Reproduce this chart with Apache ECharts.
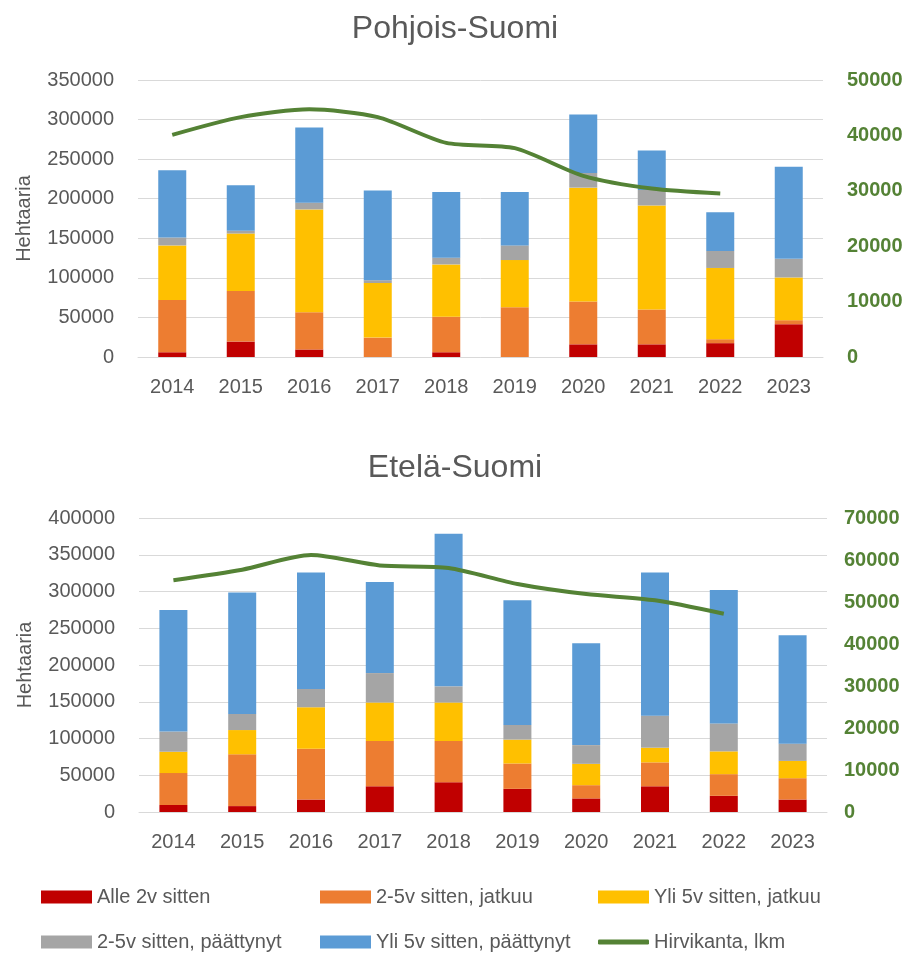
<!DOCTYPE html>
<html>
<head>
<meta charset="utf-8">
<script src="https://cdn.jsdelivr.net/npm/echarts@6/dist/echarts.min.js"></script>
<style>
  html, body { margin: 0; padding: 0; background: #fff; }
  #main { width: 910px; height: 954px; }
</style>
</head>
<body>
<div id="main"></div>
<script>
// vuodet
var years = ['2014','2015','2016','2017','2018','2019','2020','2021','2022','2023'];
var seriesNames = ['Alle 2v sitten','2-5v sitten, jatkuu','Yli 5v sitten, jatkuu',
                   '2-5v sitten, päättynyt','Yli 5v sitten, päättynyt','Hirvikanta, lkm'];

// Pohjois-Suomi
var northAlle2      = [6000, 19500, 9500, 0, 6000, 0, 16000, 16000, 17500, 41500];
var northJatkuu25   = [66000, 64000, 47000, 24500, 45000, 63000, 54000, 44000, 5000, 5000];
var northJatkuuYli5 = [69000, 72500, 130000, 69000, 66000, 59500, 144000, 131500, 90000, 54000];
var northPaatt25    = [10000, 3500, 8500, 3500, 8500, 18500, 18500, 19500, 21500, 23500];
var northPaattYli5  = [85000, 57500, 95000, 113500, 83000, 67500, 74000, 50000, 49000, 116500];
var northHirvi      = [40100, 43300, 44700, 43300, 38650, 37700, 32700, 30400, 29500, null];

// Etelä-Suomi
var southAlle2      = [9500, 8000, 17000, 35000, 40500, 31500, 18500, 35000, 22000, 17000];
var southJatkuu25   = [43500, 70500, 69000, 61500, 56000, 34500, 18000, 32500, 29500, 29000];
var southJatkuuYli5 = [29000, 33000, 56500, 52500, 52500, 32500, 29000, 20000, 31000, 23500];
var southPaatt25    = [27500, 22000, 25000, 40000, 22000, 20000, 25500, 43500, 38000, 23500];
var southPaattYli5  = [165500, 165000, 158500, 124000, 207500, 169500, 138500, 195000, 181500, 147500];
var southHirvi      = [55200, 57700, 61200, 58700, 58100, 54300, 51900, 50400, 47200, null];

var colors = ['#C00000','#ED7D31','#FFC000','#A5A5A5','#5B9BD5','#548235'];
var font = 'Liberation Sans';
var textColor = '#595959';

var chart = echarts.init(document.getElementById('main'));

function plain(v) { return String(v); }  // ei tuhaterottimia

function xAxisFor(gi) {
    return {
        type: 'category', gridIndex: gi, data: years,
        axisTick: { show: false },
        axisLine: { lineStyle: { color: '#D9D9D9' } },
        axisLabel: { color: textColor, fontSize: 20, fontFamily: font, margin: 20 }
    };
}
function leftAxisFor(gi, max) {
    return {
        type: 'value', gridIndex: gi, min: 0, max: max, interval: 50000,
        name: 'Hehtaaria', nameLocation: 'middle', nameGap: 104,
        nameTextStyle: { color: textColor, fontSize: 20, fontFamily: font },
        axisLine: { show: false }, axisTick: { show: false },
        splitLine: { lineStyle: { color: '#D9D9D9' } },
        axisLabel: { color: textColor, fontSize: 20, fontFamily: font, margin: 24, formatter: plain }
    };
}
function rightAxisFor(gi, max, margin) {
    return {
        type: 'value', gridIndex: gi, position: 'right', min: 0, max: max, interval: 10000,
        axisLine: { show: false }, axisTick: { show: false }, splitLine: { show: false },
        axisLabel: { color: '#548235', fontWeight: 'bold', fontSize: 20, fontFamily: font, margin: margin, formatter: plain }
    };
}
function seriesFor(gi, bars, hirvi) {
    var out = [];
    bars.forEach(function (d, i) {
        out.push({
            name: seriesNames[i], type: 'bar', stack: 'st' + gi,
            xAxisIndex: gi, yAxisIndex: gi * 2,
            barWidth: 28, itemStyle: { color: colors[i] },
            data: d
        });
    });
    out.push({
        name: seriesNames[5], type: 'line', xAxisIndex: gi, yAxisIndex: gi * 2 + 1,
        smooth: 0.25, symbol: 'none',
        lineStyle: { color: colors[5], width: 4 }, itemStyle: { color: colors[5] },
        data: hirvi
    });
    return out;
}

// legendit: kaksi riviä, kolme saraketta
var legendPos = [[41, 887], [320, 887], [598, 887], [41, 932], [320, 932], [598, 932]];
var legends = seriesNames.map(function (n, i) {
    return {
        left: legendPos[i][0], top: legendPos[i][1], padding: 0,
        data: [n], selectedMode: false,
        itemWidth: 51, itemHeight: i === 5 ? 5 : 13, itemGap: 5,
        icon: i === 5 ? 'roundRect' : 'rect',
        textStyle: { color: textColor, fontSize: 20, fontFamily: font }
    };
});

chart.setOption({
    animation: false,
    title: [
        { text: 'Pohjois-Suomi', left: 'center', top: 8,
          textStyle: { color: textColor, fontSize: 32, fontWeight: 'normal', fontFamily: font } },
        { text: 'Etelä-Suomi', left: 'center', top: 447,
          textStyle: { color: textColor, fontSize: 32, fontWeight: 'normal', fontFamily: font } }
    ],
    legend: legends,
    grid: [
        { left: 138, right: 87, top: 80, height: 277 },
        { left: 139, right: 83, top: 518, height: 294 }
    ],
    xAxis: [xAxisFor(0), xAxisFor(1)],
    yAxis: [leftAxisFor(0, 350000), rightAxisFor(0, 50000, 24), leftAxisFor(1, 400000), rightAxisFor(1, 70000, 17)],
    series: seriesFor(0, [northAlle2, northJatkuu25, northJatkuuYli5, northPaatt25, northPaattYli5], northHirvi)
        .concat(seriesFor(1, [southAlle2, southJatkuu25, southJatkuuYli5, southPaatt25, southPaattYli5], southHirvi))
});
</script>
</body>
</html>
